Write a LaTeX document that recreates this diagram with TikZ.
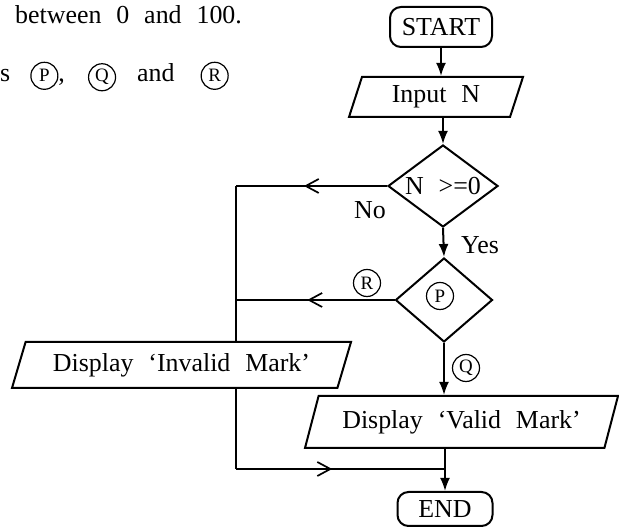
\documentclass[tikz,border=0pt]{standalone}
\usepackage{fontspec}
\setmainfont{Liberation Serif}[WordSpace=2.3]
\usetikzlibrary{arrows.meta}
\usetikzlibrary{shapes.geometric, decorations.markings}

\newcommand{\circled}[1]{\tikz[baseline=(ch.base)]\node[draw,circle,line width=1.2bp,inner sep=0pt,minimum size=27bp,font=\fontsize{19}{19}\selectfont](ch){#1};}

\tikzset{
  fcbox/.style={draw, line width=2bp, font=\fontsize{26}{30}\selectfont, inner sep=0pt},
  terminal/.style={fcbox, rounded corners=11bp},
  io/.style={fcbox, trapezium, trapezium left angle=60, trapezium right angle=120, trapezium stretches body},
  decision/.style={fcbox, diamond, aspect=1.34},
  flow/.style={line width=2bp},
  midarrow/.style={flow, postaction={decorate}, decoration={markings, mark=at position #1 with {\arrow{Straight Barb[length=13bp,width=14bp,line width=1.7bp]}}}},
  circlbl/.style={draw, circle, line width=1.2bp, inner sep=0pt, minimum size=27bp, font=\fontsize{19}{19}\selectfont},
  lbl/.style={font=\fontsize{26}{30}\selectfont, inner sep=0pt},
}

\begin{document}
\begin{tikzpicture}[x=1bp,y=1bp,>={Latex[length=13bp,width=10bp]}]
\useasboundingbox (0,0) rectangle (619,527);
%%
\node (txt_a) at (15,503) [lbl,anchor=base west] {between 0 and 100.};
\node (txt_b) at (0,445) [lbl,anchor=base west] {s\hspace{20bp}\circled{P},\hspace{23bp}\circled{Q}\hspace{21bp}and\hspace{26bp}\circled{R}};
%
\node (start) at (441,500) [terminal,minimum width=102bp,minimum height=40bp] {START};
\node (input) at (436,430) [io,minimum width=174bp,minimum height=40bp] {Input N};
\node (cond) at (443,341) [decision,minimum width=110bp,minimum height=82bp] {N >=0};
\node (check) at (444,227) [decision,minimum width=97bp,minimum height=84bp] {};
\node (lbl_p) at (440,231) [circlbl] {P};
\node (invalid) at (181.5,162) [io,minimum width=339bp,minimum height=46bp] {Display ‘Invalid Mark’};
\node (valid) at (461.5,105) [io,minimum width=313bp,minimum height=52bp] {Display ‘Valid Mark’};
\node (end) at (445,18) [terminal,minimum width=95bp,minimum height=34bp] {END};
%
\node (lbl_no) at (370,317) [lbl] {No};
\node (lbl_yes) at (480,282) [lbl] {Yes};
\node (lbl_r) at (367,244) [circlbl] {R};
\node (lbl_q) at (466,159) [circlbl] {Q};
%
\coordinate (c_no) at (236,341);
\coordinate (c_r) at (236,227);
\coordinate (c_join) at (236,58);
\coordinate (j) at (445,58);
%
\draw [flow,->] (start.south) -- (start.south |- input.north);
\draw [flow,->] (cond.north |- input.south) -- (cond.north);
\draw [midarrow=0.55] (cond.west) -- (c_no);
\draw [flow] (c_no) -- (c_no |- invalid.north);
\draw [flow,->] (cond.south) -- (check.north);
\draw [midarrow=0.55] (check.west) -- (c_r);
\draw [flow,->] (check.south) -- (check.south |- valid.north);
\draw [flow] (c_join |- invalid.south) -- (c_join);
\draw [midarrow=0.46] (c_join) -- (j);
\draw [flow,->] (end.north |- valid.south) -- (end.north);
%
\end{tikzpicture}
\end{document}
